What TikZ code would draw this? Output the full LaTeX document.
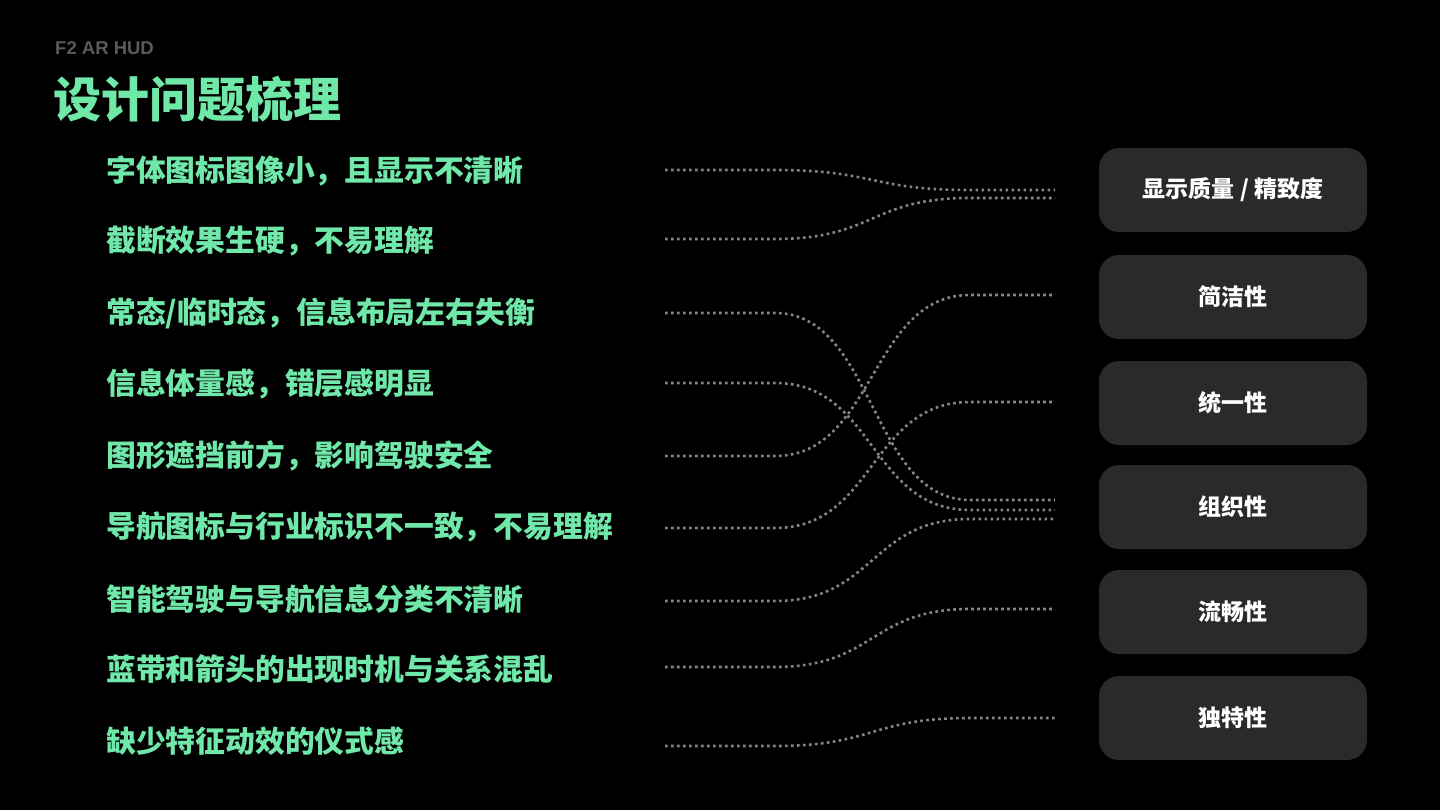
\documentclass[tikz,border=0pt]{standalone}
\usepackage{fontspec}
\setmainfont{Noto Sans CJK SC}
\newfontfamily\latinFont{Liberation Sans}
\usetikzlibrary{positioning,calc}
\definecolor{bgColor}{RGB}{0,0,0}
\definecolor{itemColor}{RGB}{112,232,170}
\definecolor{titleColor}{RGB}{112,232,168}
\definecolor{tagColor}{RGB}{90,90,90}
\definecolor{boxColor}{RGB}{42,42,42}
\definecolor{linkColor}{RGB}{135,135,135}
\tikzstyle{problem} = [anchor=west, inner sep=0pt, text=itemColor, font=\fontsize{29.8}{30}\selectfont\bfseries]
\tikzstyle{category} = [rounded corners=20pt, fill=boxColor, minimum width=268pt, minimum height=84pt, text=white, font=\fontsize{23}{23}\selectfont\bfseries]
\tikzstyle{link} = [linkColor, line width=2.6pt, dash pattern=on 2.6pt off 3.4pt]
\newcommand{\linkPath}[2]{\draw [link] (#1) -- ++(110,0) .. controls +(100,0) and ($(#2)+(-185,0)$) .. ($(#2)+(-85,0)$) -- (#2);}
\begin{document}
\begin{tikzpicture}[x=1pt, y=-1pt]
  \fill [bgColor] (0,0) rectangle (1440,810);
  \node [anchor=west, inner sep=0pt, text=tagColor, font=\latinFont\bfseries\fontsize{18.5}{19}\selectfont] (tag) at (55,48) {F2 AR HUD};
  \node [anchor=west, inner sep=0pt, text=titleColor, font=\fontsize{48}{48}\selectfont\bfseries] (title) at (53,99) {设计问题梳理};
  % problems
  \node [problem] (p1) at (106,171) {字体图标图像小，且显示不清晰};
  \node [problem] (p2) at (106,241) {截断效果生硬，不易理解};
  \node [problem] (p3) at (106,313) {常态/临时态，信息布局左右失衡};
  \node [problem] (p4) at (106,384) {信息体量感，错层感明显};
  \node [problem] (p5) at (106,456) {图形遮挡前方，影响驾驶安全};
  \node [problem] (p6) at (106,527) {导航图标与行业标识不一致，不易理解};
  \node [problem] (p7) at (106,599) {智能驾驶与导航信息分类不清晰};
  \node [problem] (p8) at (106,669) {蓝带和箭头的出现时机与关系混乱};
  \node [problem] (p9) at (106,741) {缺少特征动效的仪式感};
  % categories
  \node [category] (c1) at (1233,190) {显示质量 / 精致度};
  \node [category] (c2) at (1233,297) {简洁性};
  \node [category] (c3) at (1233,403) {统一性};
  \node [category] (c4) at (1233,507) {组织性};
  \node [category] (c5) at (1233,612) {流畅性};
  \node [category] (c6) at (1233,718) {独特性};
  % link ends
  \foreach \n/\y in {1/170, 2/239, 3/313, 4/383, 5/456, 6/528, 7/601, 8/667, 9/746}
    \coordinate (a\n) at (665,\y);
  \foreach \n/\y in {1/190, 2/198, 3/500, 4/510, 5/295, 6/402, 7/519, 8/609, 9/718}
    \coordinate (b\n) at (1055,\y);
  \foreach \n in {1,...,9} {
    \linkPath{a\n}{b\n}
  }
\end{tikzpicture}
\end{document}
